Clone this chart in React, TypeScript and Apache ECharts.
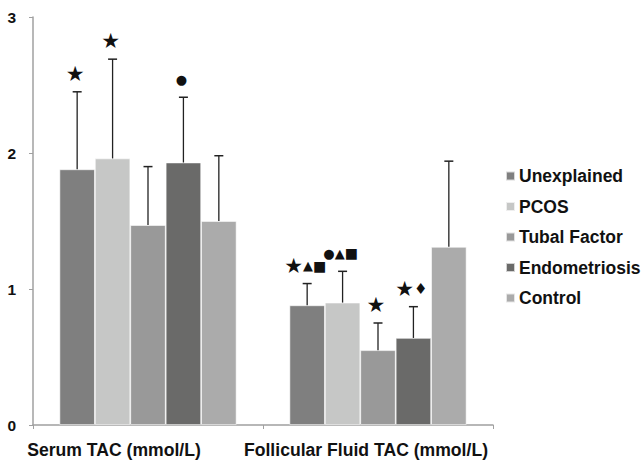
import React, { useEffect, useRef } from "react";
import * as echarts from "echarts";

const categories = ["Serum TAC (mmol/L)", "Follicular Fluid TAC (mmol/L)"];
const groups = ["Unexplained", "PCOS", "Tubal Factor", "Endometriosis", "Control"];
const colors = ["#7f7f7f", "#c6c7c6", "#999999", "#6a6a69", "#ababab"];

const unexplainedMean = [1.88, 0.88];
const pcosMean = [1.96, 0.9];
const tubalMean = [1.47, 0.55];
const endoMean = [1.93, 0.64];
const controlMean = [1.5, 1.31];

const unexplainedSD = [0.57, 0.16];
const pcosSD = [0.73, 0.23];
const tubalSD = [0.43, 0.2];
const endoSD = [0.48, 0.23];
const controlSD = [0.48, 0.63];

const serumSymbols = ["★", "★", "", "●", ""];
const follicularSymbols = ["★▲■", "●▲■", "★", "★♦", ""];

const yTicks = [0, 1, 2, 3];

const means = [unexplainedMean, pcosMean, tubalMean, endoMean, controlMean];
const sds = [unexplainedSD, pcosSD, tubalSD, endoSD, controlSD];
const symbolsByCat = [serumSymbols, follicularSymbols];

const GAP = 0.23;
const FONT = "'Liberation Sans', Arial, sans-serif";

const richKey: Record<string, string> = { "★": "s", "●": "c", "▲": "t", "■": "q", "♦": "d" };

function toRich(sym: string) {
  return Array.from(sym)
    .map((ch) => `{${richKey[ch] || "s"}|${ch}}`)
    .join("");
}

export default function App() {
  const ref = useRef<HTMLDivElement>(null);
  useEffect(() => {
    if (!ref.current) return;
    const chart = echarts.init(ref.current, undefined, { renderer: "svg" });

    const errData: any[] = [];
    categories.forEach((_, ci) => {
      groups.forEach((_, gi) => {
        errData.push([ci, gi, means[gi][ci], means[gi][ci] + sds[gi][ci], symbolsByCat[ci][gi]]);
      });
    });

    const symFont = "'DejaVu Sans', sans-serif";
    const rich = {
      s: { fontSize: 21, fontFamily: symFont, fill: "#111", color: "#111" },
      c: { fontSize: 13, fontFamily: symFont, fill: "#111", color: "#111" },
      t: { fontSize: 13, fontFamily: symFont, fill: "#111", color: "#111" },
      q: { fontSize: 14, fontFamily: symFont, fill: "#111", color: "#111" },
      d: { fontSize: 15, fontFamily: symFont, fill: "#111", color: "#111" },
    };

    const option: any = {
      animation: false,
      backgroundColor: "#ffffff",
      grid: { left: 33, right: 148, top: 17, bottom: 36, containLabel: false },
      legend: {
        orient: "vertical",
        left: 505,
        top: 167,
        padding: 0,
        itemWidth: 9,
        itemHeight: 9,
        itemGap: 12.5,
        icon: "rect",
        data: groups,
        textStyle: { fontFamily: FONT, fontWeight: "bold", fontSize: 17.5, color: "#111", lineHeight: 17, padding: [0, 0, 0, -1] },
      },
      xAxis: {
        type: "category",
        data: categories,
        axisLine: { show: true, lineStyle: { color: "#a0a0a0", width: 1.5 } },
        axisTick: { show: true, length: 4, lineStyle: { color: "#a0a0a0", width: 1 } },
        axisLabel: {
          margin: 16,
          formatter: (v: string, i: number) => (i === 0 ? `{a|${v}}` : `{b|${v}}`),
          rich: {
            a: { fontFamily: FONT, fontWeight: "bold", fontSize: 17.6, color: "#111", padding: [0, 68, 0, 0] },
            b: { fontFamily: FONT, fontWeight: "bold", fontSize: 17.6, color: "#111", padding: [0, 24, 0, 0] },
          },
        },
      },
      yAxis: {
        type: "value",
        min: yTicks[0],
        max: yTicks[yTicks.length - 1],
        interval: 1,
        splitLine: { show: false },
        axisLine: { show: true, lineStyle: { color: "#a0a0a0", width: 1.5 } },
        axisTick: { show: true, length: 4, lineStyle: { color: "#a0a0a0", width: 1 } },
        axisLabel: { margin: 17, fontFamily: FONT, fontWeight: "bold", fontSize: 15.5, color: "#111" },
      },
      series: [
        ...groups.map((g, gi) => ({
          name: g,
          type: "bar",
          data: means[gi],
          barGap: "0%",
          barCategoryGap: `${GAP * 100}%`,
          itemStyle: { color: colors[gi], borderColor: "rgba(255,255,255,0.7)", borderWidth: 0.8 },
        })),
        {
          type: "custom",
          name: "err",
          data: errData,
          encode: { x: 0, y: 3 },
          z: 5,
          renderItem: (params: any, api: any) => {
            const ci = api.value(0);
            const gi = api.value(1);
            const mean = api.value(2);
            const top = api.value(3);
            const sym = errData[params.dataIndex][4];
            const band = api.size([1, 0])[0];
            const bw = (band * (1 - GAP)) / groups.length;
            const base = api.coord([ci, mean]);
            const topP = api.coord([ci, top]);
            const x = base[0] + (gi - (groups.length - 1) / 2) * bw;
            const cap = 4.5;
            const children: any[] = [
              { type: "line", shape: { x1: x, y1: base[1], x2: x, y2: topP[1] }, style: { stroke: "#222", lineWidth: 1.3 } },
              { type: "line", shape: { x1: x - cap, y1: topP[1], x2: x + cap, y2: topP[1] }, style: { stroke: "#222", lineWidth: 1.5 } },
            ];
            if (sym) {
              children.push({
                type: "text",
                style: {
                  text: toRich(sym),
                  rich,
                  x: x - 2,
                  y: topP[1] - 18,
                  align: "center",
                  verticalAlign: "middle",
                  fill: "#111",
                },
              });
            }
            return { type: "group", children };
          },
        },
      ],
    };
    chart.setOption(option);
    return () => chart.dispose();
  }, []);
  return <div ref={ref} style={{ position: "fixed", left: 0, top: 0, width: 641, height: 461 }} />;
}
